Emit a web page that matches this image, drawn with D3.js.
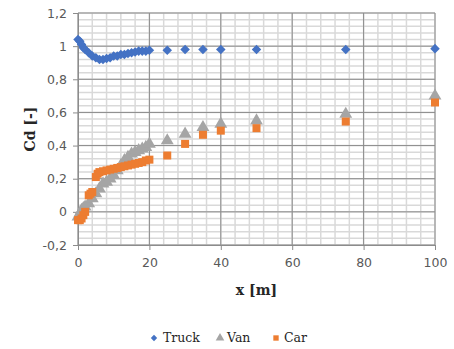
<!DOCTYPE html>
<html>
<head>
<meta charset="utf-8">
<script src="https://cdn.jsdelivr.net/npm/d3@7"></script>
<style>
  body { margin: 0; background: #fff; }
  text { font-family: "DejaVu Serif", serif; fill: #262626; }
  .tick text { font-family: "DejaVu Sans", sans-serif; fill: #595959; }
</style>
</head>
<body>
<div id="chart"></div>
<script>
// data
const truckX = [0, 0.5, 1, 1.5, 2, 3, 4, 5, 6, 7, 8, 9, 10, 11, 12, 13, 14, 15, 16, 17, 18, 19, 20, 25, 30, 35, 40, 50, 75, 100];
const truckY = [1.04, 1.03, 1.01, 0.99, 0.98, 0.96, 0.94, 0.93, 0.92, 0.92, 0.925, 0.93, 0.94, 0.94, 0.95, 0.95, 0.955, 0.96, 0.965, 0.97, 0.97, 0.97, 0.975, 0.975, 0.98, 0.98, 0.98, 0.98, 0.98, 0.985];
const vanX = [0, 0.5, 1, 1.5, 2, 3, 4, 5, 6, 7, 8, 9, 10, 11, 12, 13, 14, 15, 16, 17, 18, 19, 20, 25, 30, 35, 40, 50, 75, 100];
const vanY = [-0.03, -0.01, 0.01, 0.02, 0.03, 0.05, 0.08, 0.11, 0.14, 0.17, 0.18, 0.2, 0.22, 0.25, 0.28, 0.31, 0.33, 0.35, 0.36, 0.37, 0.38, 0.39, 0.41, 0.43, 0.47, 0.51, 0.53, 0.55, 0.59, 0.7];
const carX = [0, 0.5, 1, 1.5, 2, 3, 3.5, 4, 5, 5.5, 6, 7, 8, 9, 10, 11, 12, 13, 14, 15, 16, 17, 18, 19, 20, 25, 30, 35, 40, 50, 75, 100];
const carY = [-0.05, -0.05, -0.04, -0.02, 0.0, 0.1, 0.11, 0.12, 0.21, 0.23, 0.24, 0.245, 0.25, 0.255, 0.26, 0.265, 0.27, 0.275, 0.28, 0.285, 0.29, 0.295, 0.3, 0.31, 0.315, 0.34, 0.41, 0.465, 0.49, 0.505, 0.545, 0.66];
const xTicks = [0, 20, 40, 60, 80, 100];
const yTicks = [-0.2, 0, 0.2, 0.4, 0.6, 0.8, 1, 1.2];
const seriesNames = ["Truck", "Van", "Car"];
const colors = ["#4472C4", "#A5A5A5", "#ED7D31"];

const W = 454, H = 349;
const margin = { top: 13, right: 19, bottom: 104, left: 78 };
const width = W - margin.left - margin.right;
const height = H - margin.top - margin.bottom;

const svg = d3.select("#chart").append("svg")
  .attr("width", W).attr("height", H);
const g = svg.append("g")
  .attr("transform", "translate(" + margin.left + "," + margin.top + ")");

const x = d3.scaleLinear().domain([0, 100]).range([0, width]);
const y = d3.scaleLinear().domain([-0.2, 1.2]).range([height, 0]);
const fmt = d => d3.format(".1f")(d).replace(".", ",").replace(/,0$/, "").replace("−", "-");

// minor grid
g.append("g").selectAll("line").data(d3.range(0, 100.1, 4)).enter().append("line")
  .attr("x1", d => x(d)).attr("x2", d => x(d)).attr("y1", 0).attr("y2", height)
  .attr("stroke", "#d9d9d9").attr("stroke-width", 1.5);
g.append("g").selectAll("line").data(d3.range(-0.2, 1.201, 0.04)).enter().append("line")
  .attr("y1", d => y(d)).attr("y2", d => y(d)).attr("x1", 0).attr("x2", width)
  .attr("stroke", "#d9d9d9").attr("stroke-width", 1.5);
// major grid
g.append("g").selectAll("line").data(xTicks).enter().append("line")
  .attr("x1", d => x(d)).attr("x2", d => x(d)).attr("y1", 0).attr("y2", height)
  .attr("stroke", "#8c8c8c").attr("stroke-width", 1);
g.append("g").selectAll("line").data(yTicks).enter().append("line")
  .attr("y1", d => y(d)).attr("y2", d => y(d)).attr("x1", 0).attr("x2", width)
  .attr("stroke", "#8c8c8c").attr("stroke-width", 1);

// axes
const yAxis = g.append("g")
  .call(d3.axisLeft(y).tickValues(yTicks).tickFormat(fmt).tickSize(5).tickPadding(6));
const xAxis = g.append("g").attr("transform", "translate(0," + height + ")")
  .call(d3.axisBottom(x).tickValues(xTicks).tickSize(5).tickPadding(8));
[xAxis, yAxis].forEach(a => {
  a.attr("font-family", null);
  a.select(".domain").attr("stroke", "#8c8c8c");
  a.selectAll(".tick line").attr("stroke", "#8c8c8c");
  a.selectAll("text").style("font-size", "12.5px").attr("fill", "#595959");
});

// axis titles
g.append("text").attr("x", width / 2).attr("y", height + 50)
  .attr("text-anchor", "middle").style("font-size", "14px").style("font-weight", "bold")
  .text("x [m]");
g.append("text").attr("transform", "translate(-43," + (height / 2) + ") rotate(-90)")
  .attr("text-anchor", "middle").style("font-size", "14px").style("font-weight", "bold")
  .text("Cd [-]");

// markers
const sym = [d3.symbolDiamond2, d3.symbolTriangle, d3.symbolSquare];
const sizes = [58, 72, 64];
const all = [[truckX, truckY], [vanX, vanY], [carX, carY]];
all.forEach((s, i) => {
  const pts = s[0].map((xv, j) => [xv, s[1][j]]);
  g.append("g").selectAll("path").data(pts).enter().append("path")
    .attr("d", d3.symbol().type(sym[i]).size(sizes[i]))
    .attr("transform", d => "translate(" + x(d[0]) + "," + y(d[1]) + ")")
    .attr("fill", colors[i]);
});

// legend
const legX = [154, 220, 276];
const legGap = [9, 7, 8];
const leg = svg.append("g").attr("transform", "translate(0,342)");
seriesNames.forEach((n, i) => {
  leg.append("path")
    .attr("d", d3.symbol().type(sym[i]).size(sizes[i] * 0.45))
    .attr("transform", "translate(" + legX[i] + ",-4)")
    .attr("fill", colors[i]);
  leg.append("text").attr("x", legX[i] + legGap[i]).attr("y", 0)
    .style("font-size", "12.5px").text(n);
});
</script>
</body>
</html>
